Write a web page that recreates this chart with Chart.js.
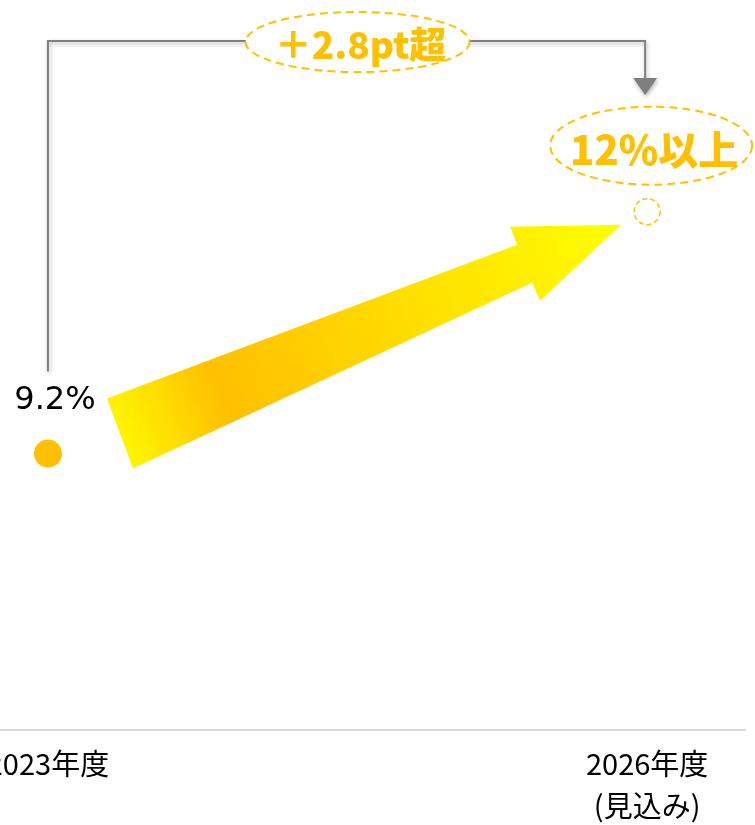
<!DOCTYPE html>
<html>
<head>
<meta charset="utf-8">
<script src="https://cdn.jsdelivr.net/npm/chart.js@4"></script>
<style>
  html, body { margin: 0; padding: 0; background: #fff; overflow: hidden; }
  #wrap { position: relative; width: 755px; height: 825px; overflow: hidden; }
  #box { position: absolute; left: -60px; top: 0; width: 815px; height: 825px; }
</style>
</head>
<body>
<div id="wrap"><div id="box"><canvas id="c"></canvas></div></div>
<script>
// Fiscal years and their labels on the horizontal axis
const years = [2023, 2026];
const categories = ['2023年度', ['2026年度', '(見込み)']];
// Ratio (%) per year: actual, then outlook
const values = [9.2, 12];
const valueLabels = ['9.2%', '12%以上'];
const diffLabel = '＋2.8pt超';

const ORANGE = '#FFC000';
const GREY = '#7f7f7f';

function dashedEllipse(ctx, cx, cy, rx, ry) {
  ctx.save();
  ctx.beginPath();
  ctx.ellipse(cx, cy, rx, ry, 0, 0, Math.PI * 2);
  ctx.fillStyle = '#fff';
  ctx.fill();
  ctx.setLineDash([8, 5]);
  ctx.lineWidth = 2;
  ctx.strokeStyle = ORANGE;
  ctx.stroke();
  ctx.restore();
}

function text(ctx, str, x, y, font, color) {
  ctx.save();
  ctx.font = font;
  ctx.fillStyle = color;
  ctx.textAlign = 'center';
  ctx.textBaseline = 'middle';
  ctx.fillText(str, x, y);
  ctx.restore();
}

const overlay = {
  id: 'overlay',
  beforeDatasetsDraw(chart) {
    const ctx = chart.ctx;
    const pts = chart.getDatasetMeta(0).data;
    const p1 = { x: pts[0].x, y: pts[0].y };
    const p2 = { x: pts[1].x, y: pts[1].y };
    const top = chart.chartArea.top;
    const rx = p2.x - 2;

    // bracket connecting the two years
    ctx.save();
    ctx.shadowColor = 'rgba(0,0,0,0.3)';
    ctx.shadowBlur = 4;
    ctx.shadowOffsetX = 1;
    ctx.shadowOffsetY = 2;
    ctx.strokeStyle = GREY;
    ctx.lineWidth = 2;
    ctx.beginPath();
    ctx.moveTo(p1.x, p1.y - 82);
    ctx.lineTo(p1.x, top + 41);
    ctx.lineTo(rx, top + 41);
    ctx.lineTo(rx, top + 80);
    ctx.stroke();
    ctx.fillStyle = GREY;
    ctx.beginPath();
    ctx.moveTo(rx - 12, top + 78);
    ctx.lineTo(rx + 12, top + 78);
    ctx.lineTo(rx, top + 95);
    ctx.closePath();
    ctx.fill();
    ctx.restore();

    // difference badge on the bracket
    const mx = (p1.x + p2.x) / 2 + 10;
    dashedEllipse(ctx, mx, top + 42, 112, 30);
    text(ctx, diffLabel, mx + 3, top + 45, '900 37px "Noto Sans CJK JP"', ORANGE);

    // outlook badge
    dashedEllipse(ctx, p2.x + 4, p2.y - 66, 101, 39);
    text(ctx, valueLabels[1], p2.x + 7, p2.y - 62, '900 40px "Noto Sans CJK JP"', ORANGE);

    // actual value label
    text(ctx, valueLabels[0], p1.x + 7, p1.y - 53, '32px "DejaVu Sans"', '#000');

    // growth arrow
    const A = [p1.x + 59, p1.y - 55];
    const G = [p1.x + 85, p1.y + 15];
    const B = [p2.x - 130, p2.y + 33];
    const C = [p2.x - 137, p2.y + 15];
    const D = [p2.x - 26, p2.y + 13];
    const E = [p2.x - 107, p2.y + 89];
    const F = [p2.x - 115, p2.y + 71];
    const tail = [(A[0] + G[0]) / 2, (A[1] + G[1]) / 2];
    const grad = ctx.createLinearGradient(tail[0], tail[1], D[0], D[1]);
    grad.addColorStop(0, '#FFF500');
    grad.addColorStop(0.2, '#FFC000');
    grad.addColorStop(1, '#FFFF00');
    ctx.save();
    ctx.fillStyle = grad;
    ctx.beginPath();
    [A, B, C, D, E, F, G].forEach((p, i) => i ? ctx.lineTo(p[0], p[1]) : ctx.moveTo(p[0], p[1]));
    ctx.closePath();
    ctx.fill();
    ctx.restore();
  },
  afterDatasetsDraw(chart) {
    // outlook point drawn as a dashed ring
    const ctx = chart.ctx;
    const el = chart.getDatasetMeta(0).data[1];
    ctx.save();
    ctx.setLineDash([5, 3]);
    ctx.lineWidth = 1.5;
    ctx.strokeStyle = ORANGE;
    ctx.beginPath();
    ctx.arc(el.x, el.y, 13, 0, Math.PI * 2);
    ctx.stroke();
    ctx.restore();
  }
};

new Chart(document.getElementById('c'), {
  type: 'scatter',
  data: {
    datasets: [{
      data: years.map((y, i) => ({ x: y, y: values[i] })),
      showLine: false,
      pointRadius: [14, 0],
      pointHoverRadius: [14, 0],
      pointBackgroundColor: ORANGE,
      pointBorderWidth: 0
    }]
  },
  options: {
    responsive: true,
    maintainAspectRatio: false,
    animation: false,
    devicePixelRatio: 1,
    events: [],
    layout: { autoPadding: false, padding: { left: 60, right: 10, top: 0, bottom: 0 } },
    plugins: { legend: { display: false }, tooltip: { enabled: false } },
    scales: {
      x: {
        type: 'linear',
        min: 2022.76,
        max: 2026.49,
        afterBuildTicks: (scale) => { scale.ticks = years.map(v => ({ value: v })); },
        afterFit: (scale) => { scale.height = 95; },
        grid: { display: true, color: 'rgba(0,0,0,0)', drawTicks: false },
        border: { display: true, color: '#d9d9d9', width: 2 },
        ticks: {
          autoSkip: false,
          maxRotation: 0,
          padding: 13,
          color: '#000',
          font: { family: '"Noto Sans CJK JP"', size: 29, lineHeight: '42px' },
          callback: (v) => categories[years.indexOf(v)]
        }
      },
      y: {
        display: false,
        min: 6,
        max: 14.45
      }
    }
  },
  plugins: [overlay]
});
</script>
</body>
</html>
